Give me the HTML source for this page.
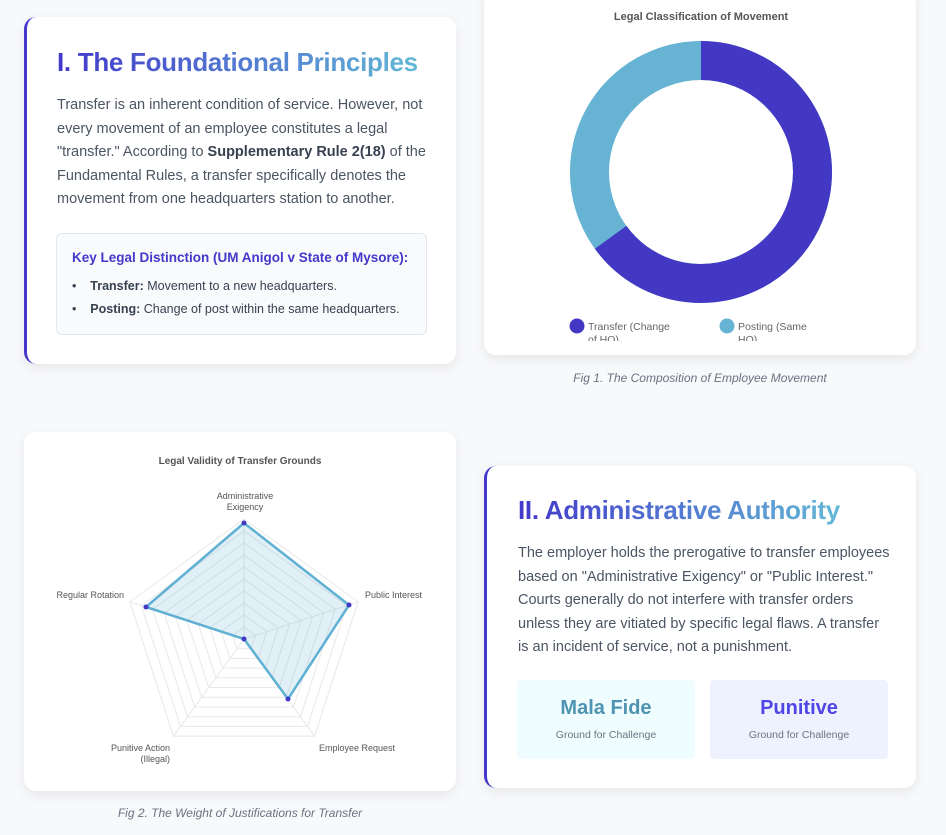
<!DOCTYPE html>
<html><head><meta charset="utf-8"><style>
*{box-sizing:border-box;margin:0;padding:0}
body{width:946px;height:835px;background:#f8f9fb;font-family:"Liberation Sans",sans-serif;position:relative;overflow:hidden}
.card{position:absolute;background:#fff;border-radius:12px;box-shadow:0 4px 12px rgba(0,0,0,.08)}
.bl{border-left:3px solid #4338ca}
h2{font-size:26px;font-weight:bold;background:linear-gradient(90deg,#4338ca,#62b8d6);-webkit-background-clip:text;background-clip:text;color:transparent;display:inline-block;letter-spacing:-0.3px}
p.body{font-size:14.5px;line-height:23.6px;color:#4b5563}
.cap{position:absolute;font-size:12px;font-style:italic;color:#6b7280;text-align:center}
</style></head><body>

<div class="card bl" style="left:24px;top:17px;width:432px;height:347px;padding:30px 0 0 30px">
<h2>I. The Foundational Principles</h2>
<p class="body" style="margin-top:16px;width:370px">Transfer is an inherent condition of service. However, not every movement of an employee constitutes a legal "transfer." According to <b style="color:#374151">Supplementary Rule 2(18)</b> of the Fundamental Rules, a transfer specifically denotes the movement from one headquarters station to another.</p>
<div style="position:absolute;left:29px;top:216px;width:371px;height:102px;background:#f8fafc;border:1px solid #e2e8f0;border-radius:6px;padding:16px 0 0 15px">
<div style="font-size:13.5px;font-weight:bold;color:#4338ca">Key Legal Distinction (UM Anigol v State of Mysore):</div>
<div style="font-size:12.5px;color:#374151;margin-top:14px">•&nbsp;&nbsp;&nbsp;&nbsp;<b>Transfer:</b> Movement to a new headquarters.</div>
<div style="font-size:12.5px;color:#374151;margin-top:9px">•&nbsp;&nbsp;&nbsp;&nbsp;<b>Posting:</b> Change of post within the same headquarters.</div>
</div>
</div>

<div class="card" style="left:484px;top:-12px;width:432px;height:367px"></div>
<svg style="position:absolute;left:0;top:0" width="946" height="835">
<defs><clipPath id="lc"><rect x="484" y="310" width="432" height="31"/></clipPath></defs>
<text x="701" y="20" text-anchor="middle" font-size="11" font-weight="bold" fill="#555" font-family="Liberation Sans">Legal Classification of Movement</text>
<circle cx="701" cy="172" r="111.5" fill="none" stroke="#66b3d3" stroke-width="39"/>
<circle cx="701" cy="172" r="111.5" fill="none" stroke="#4338c4" stroke-width="39" stroke-dasharray="455.4 700" transform="rotate(-90 701 172)"/>
<g clip-path="url(#lc)" font-family="Liberation Sans" font-size="10.5" fill="#666">
<circle cx="577" cy="326" r="7.5" fill="#4338c4"/>
<text x="588" y="330">Transfer (Change</text><text x="588" y="343">of HQ)</text>
<circle cx="727" cy="326" r="7.5" fill="#66b3d3"/>
<text x="738" y="330">Posting (Same</text><text x="738" y="343">HQ)</text>
</g>
</svg>
<div class="cap" style="left:484px;width:432px;top:371px">Fig 1. The Composition of Employee Movement</div>

<div class="card" style="left:24px;top:432px;width:432px;height:359px"></div>
<svg style="position:absolute;left:0;top:0" width="946" height="835" font-family="Liberation Sans">
<text x="240" y="464" text-anchor="middle" font-size="10" font-weight="bold" fill="#555">Legal Validity of Transfer Grounds</text>
<g transform="translate(244,639)" fill="none" stroke="#e8e8e8" stroke-width="1">
<polygon points="0,-120 114.1,-37.1 70.5,97.1 -70.5,97.1 -114.1,-37.1"/>
<polygon points="0,-108 102.7,-33.4 63.5,87.4 -63.5,87.4 -102.7,-33.4"/>
<polygon points="0,-96 91.3,-29.7 56.4,77.7 -56.4,77.7 -91.3,-29.7"/>
<polygon points="0,-84 79.9,-26 49.4,68 -49.4,68 -79.9,-26"/>
<polygon points="0,-72 68.5,-22.3 42.3,58.3 -42.3,58.3 -68.5,-22.3"/>
<polygon points="0,-60 57.1,-18.5 35.3,48.5 -35.3,48.5 -57.1,-18.5"/>
<polygon points="0,-48 45.6,-14.8 28.2,38.8 -28.2,38.8 -45.6,-14.8"/>
<polygon points="0,-36 34.2,-11.1 21.2,29.1 -21.2,29.1 -34.2,-11.1"/>
<polygon points="0,-24 22.8,-7.4 14.1,19.4 -14.1,19.4 -22.8,-7.4"/>
<polygon points="0,-12 11.4,-3.7 7.1,9.7 -7.1,9.7 -11.4,-3.7"/>
<line x1="0" y1="0" x2="0" y2="-120"/><line x1="0" y1="0" x2="114.1" y2="-37.1"/><line x1="0" y1="0" x2="70.5" y2="97.1"/><line x1="0" y1="0" x2="-70.5" y2="97.1"/><line x1="0" y1="0" x2="-114.1" y2="-37.1"/>
</g>
<polygon points="244,523 349,605 288,699 244,639 146,607" fill="rgba(102,179,211,0.2)" stroke="#5fb0d3" stroke-width="2.5" stroke-linejoin="miter"/>
<g fill="#4338c4"><circle cx="244" cy="523" r="2.5"/><circle cx="349" cy="605" r="2.5"/><circle cx="288" cy="699" r="2.5"/><circle cx="244" cy="639" r="2.5"/><circle cx="146" cy="607" r="2.5"/></g>
<g font-size="9" fill="#555">
<text x="245" y="499" text-anchor="middle">Administrative</text><text x="245" y="510" text-anchor="middle">Exigency</text>
<text x="365" y="598">Public Interest</text>
<text x="319" y="751">Employee Request</text>
<text x="170" y="751" text-anchor="end">Punitive Action</text><text x="170" y="762" text-anchor="end">(Illegal)</text>
<text x="124" y="598" text-anchor="end">Regular Rotation</text>
</g>
</svg>
<div class="cap" style="left:24px;width:432px;top:806px">Fig 2. The Weight of Justifications for Transfer</div>

<div class="card bl" style="left:484px;top:466px;width:432px;height:322px;padding:29px 0 0 31px">
<h2>II. Administrative Authority</h2>
<p class="body" style="margin-top:16px;width:372px">The employer holds the prerogative to transfer employees based on "Administrative Exigency" or "Public Interest." Courts generally do not interfere with transfer orders unless they are vitiated by specific legal flaws. A transfer is an incident of service, not a punishment.</p>
<div style="position:absolute;left:30px;top:214px;width:178px;height:79px;background:#f0fdff;border-radius:4px;text-align:center;padding-top:17px">
<div style="font-size:20px;font-weight:bold;color:#4f93b3">Mala Fide</div>
<div style="font-size:10.5px;color:#6b7280;margin-top:9px">Ground for Challenge</div></div>
<div style="position:absolute;left:223px;top:214px;width:178px;height:79px;background:#eef2ff;border-radius:4px;text-align:center;padding-top:17px">
<div style="font-size:20px;font-weight:bold;color:#4f46e5">Punitive</div>
<div style="font-size:10.5px;color:#6b7280;margin-top:9px">Ground for Challenge</div></div>
</div>
</body></html>
